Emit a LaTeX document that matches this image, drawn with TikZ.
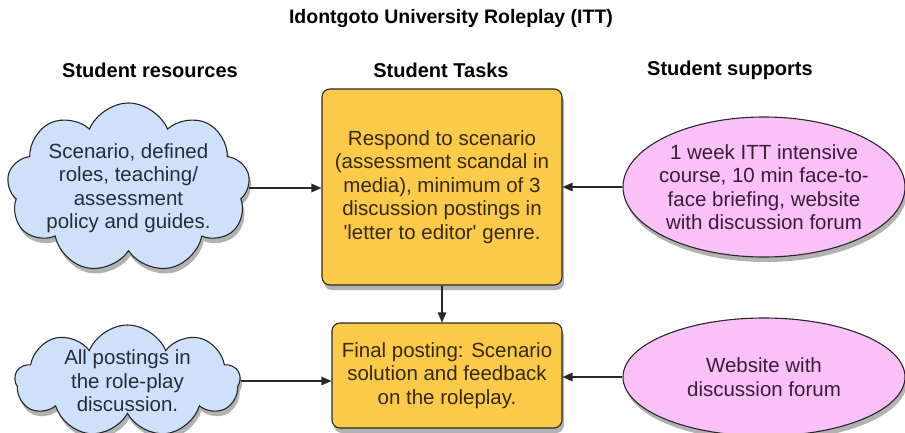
\documentclass[tikz,border=0pt]{standalone}
\usepackage{fontspec}
\setmainfont{Liberation Sans}[Ligatures=TeXOff]
\usetikzlibrary{shapes.symbols,shapes.geometric,shadows,arrows.meta}
\definecolor{cloudblue}{RGB}{206,224,250}
\definecolor{taskyellow}{RGB}{250,202,72}
\definecolor{supportpink}{RGB}{250,192,248}
\definecolor{edgegray}{RGB}{40,40,40}
\definecolor{txtblue}{RGB}{40,44,58}
\definecolor{txtyellow}{RGB}{55,42,12}
\definecolor{txtpink}{RGB}{58,30,56}
\tikzset{
  body/.style={font=\fontsize{20.5}{23.5}\selectfont, align=center, inner sep=0pt},
  heading/.style={font=\fontsize{20}{24}\selectfont\bfseries, text=black, inner sep=0pt},
  shade/.style={drop shadow={shadow xshift=2pt, shadow yshift=-5pt, opacity=0.3, fill=black}},
  rescloud/.style={cloud, cloud puffs=9, cloud puff arc=135, cloud ignores aspect,
    draw=edgegray, line width=1.1pt, fill=cloudblue, shade, inner sep=0pt},
  taskbox/.style={body, text=txtyellow, rectangle, rounded corners=8pt, draw=edgegray, line width=1.1pt,
    fill=taskyellow, shade},
  support/.style={ellipse, draw=edgegray, line width=1.1pt, fill=supportpink, shade, inner sep=0pt},
  link/.style={draw=edgegray, line width=1.2pt, -{Triangle[length=10pt,width=8.5pt]}}
}
\begin{document}
\begin{tikzpicture}[x=1pt,y=-1pt]
\useasboundingbox (0,0) rectangle (905,432);
\clip (0,0) rectangle (905,432);
\fill[white] (0,0) rectangle (905,432);

\node[heading, font=\fontsize{19.5}{24}\selectfont\bfseries] (title) at (451,18) {Idontgoto University Roleplay (ITT)};
\node[heading] (h1) at (150,70) {Student resources};
\node[heading] (h2) at (441,70) {Student Tasks};
\node[heading] (h3) at (730,70) {Student supports};

\node[rescloud, minimum width=243pt, minimum height=170pt] (res1) at (128.5,188) {};
\node[body, text=txtblue] (res1t) at (res1.center) {Scenario, defined\\roles, teaching/\\assessment\\policy and guides.};

\node[rescloud, minimum width=225pt, minimum height=112pt] (res2) at (127.5,381) {};
\node[body, text=txtblue] (res2t) at (res2.center) {All postings in\\the role-play\\discussion.};

\node[taskbox, minimum width=240pt, minimum height=196pt] (task1) at (442,187)
  {Respond to scenario\\(assessment scandal in\\media), minimum of 3\\discussion postings in\\'letter to editor' genre.};
\node[taskbox, minimum width=230pt, minimum height=105pt] (task2) at (447,375.5)
  {Final posting: Scenario\\solution and feedback\\on the roleplay.};

\node[support, minimum width=282pt, minimum height=140pt] (sup1) at (764,187) {};
\node[body, text=txtpink] (sup1t) at (sup1.center) {1 week ITT intensive\\course, 10 min face-to-\\face briefing, website\\with discussion forum};

\node[support, minimum width=282pt, minimum height=118pt] (sup2) at (764,377) {};
\node[body, text=txtpink] (sup2t) at (sup2.center) {Website with\\discussion forum};

\draw[link] (res1.east) -- (res1.east -| task1.west);
\draw[link] (sup1.west) -- (sup1.west -| task1.east);
\draw[link] (task1.south) -- (task1.south |- task2.north);
\draw[link] (res2.east) -- (res2.east -| task2.west);
\draw[link] (sup2.west) -- (sup2.west -| task2.east);
\end{tikzpicture}
\end{document}
